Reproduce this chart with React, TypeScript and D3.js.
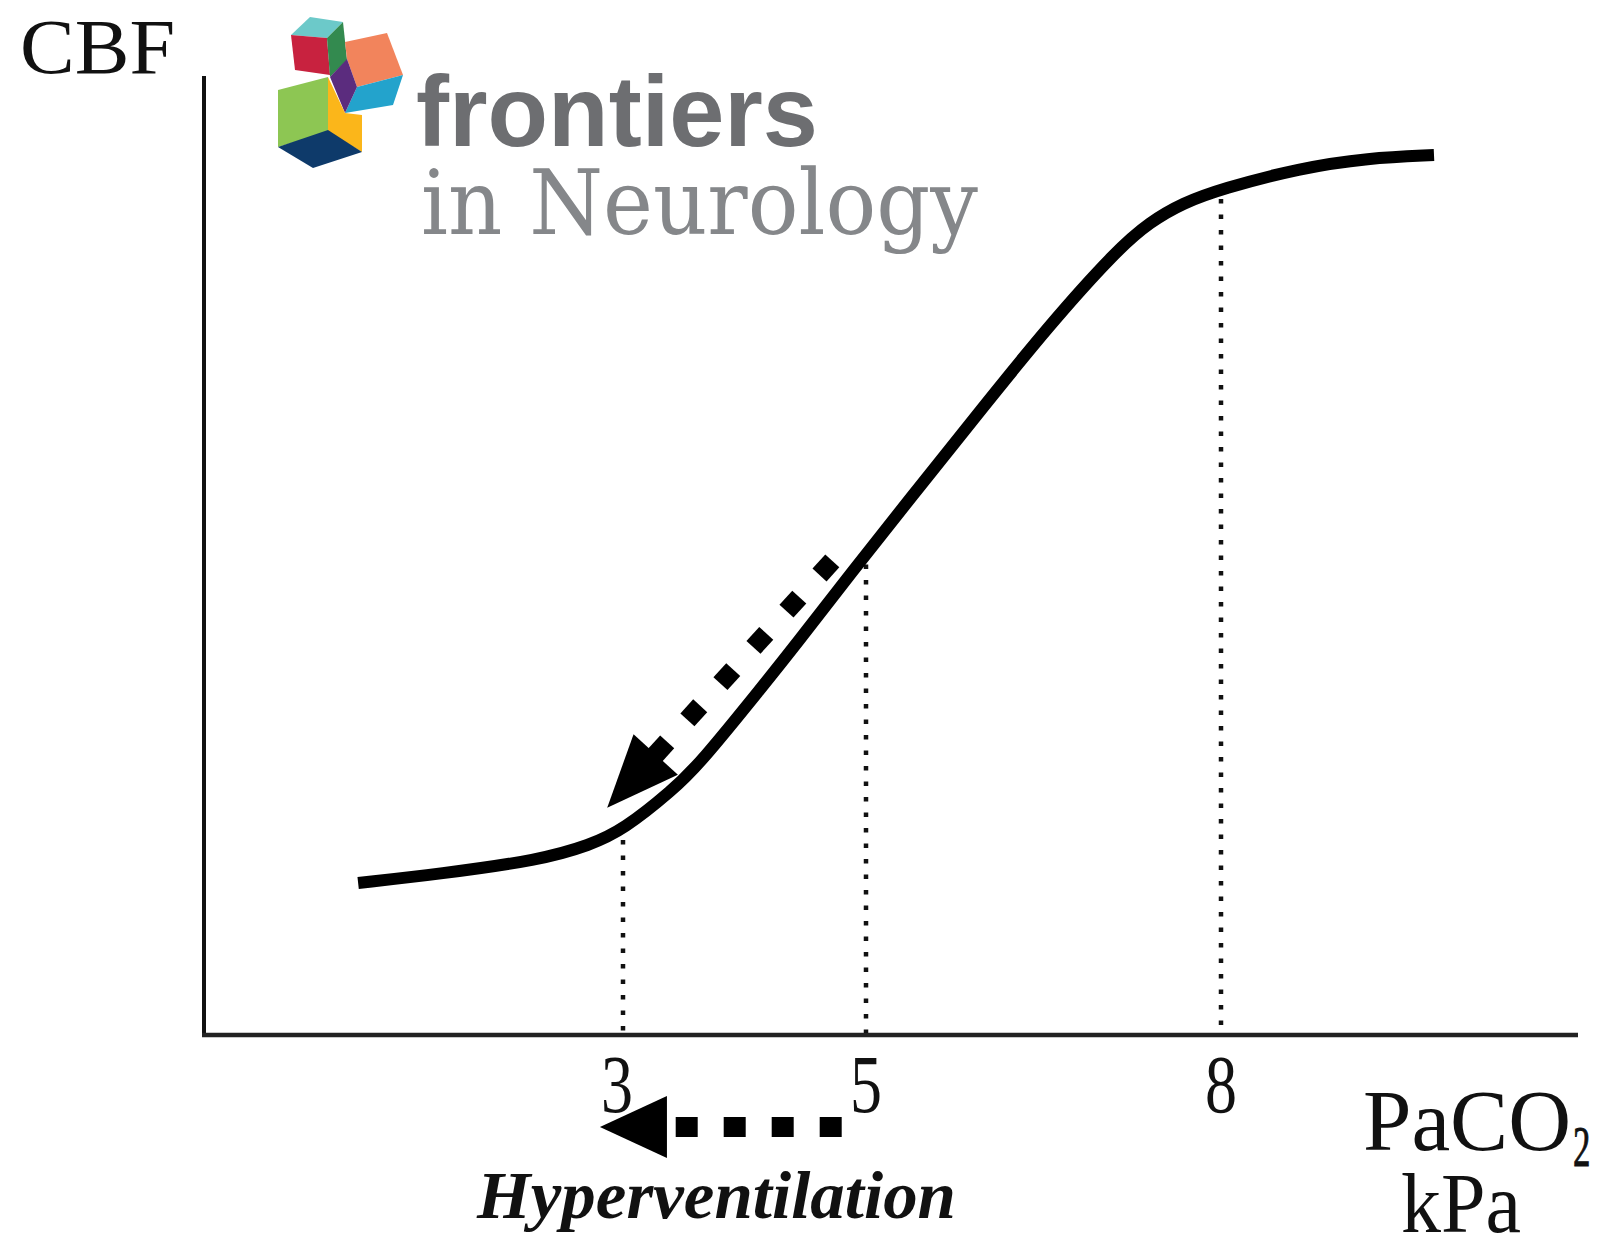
import React from "react";
import * as d3 from "d3";

// ---- data ----
const tickValues = [3, 5, 8];
const tickLabels = ["3", "5", "8"];
// PaCO2 (kPa) along the CBF curve
const curveX = [0.82, 1.49, 2.32, 2.73, 3.0, 3.41, 3.63, 4.15, 4.42, 4.87, 5.43, 5.99, 6.55, 7.12, 7.4, 7.68, 8.0, 8.67, 9.24, 9.8];
// CBF (arbitrary units, 0-100)
const curveY = [15.85, 16.79, 18.25, 19.81, 21.38, 25.55, 28.26, 36.39, 40.67, 48.07, 56.83, 65.48, 74.04, 81.86, 84.78, 86.76, 88.22, 90.41, 91.45, 91.76];
// dotted arrow drawn along the curve (x kPa, CBF)
const curveArrowFrom = [4.67, 48.7];
const curveArrowTo = [2.87, 23.7];
// hyperventilation arrow below the axis (kPa)
const hyperArrowFrom = 4.8;
const hyperArrowTo = 2.81;

const W = 1598;
const H = 1239;

export default function App() {
  const x = d3.scaleLinear().domain([3, 5, 8]).range([623, 866, 1221]);
  const y = d3.scaleLinear().domain([0, 100]).range([1035, 76]);

  const pts: [number, number][] = curveX.map((v, i) => [v, curveY[i]]);
  const line = d3
    .line<[number, number]>()
    .x((d) => x(d[0]))
    .y((d) => y(d[1]))
    .curve(d3.curveBasis);
  const curvePath = line(pts) || "";

  const interpY = d3.scaleLinear().domain(curveX).range(curveY);

  // curve arrow geometry
  const sx = x(curveArrowFrom[0]);
  const sy = y(curveArrowFrom[1]);
  const tx = x(curveArrowTo[0]);
  const ty = y(curveArrowTo[1]);
  const L = Math.hypot(tx - sx, ty - sy);
  const ux = (tx - sx) / L;
  const uy = (ty - sy) / L;
  const px = -uy;
  const py = ux;
  const headLen = 72;
  const headHalf = 30;
  const bx = tx - ux * headLen;
  const by = ty - uy * headLen;
  const angle = (Math.atan2(uy, ux) * 180) / Math.PI;
  const sqSide = 19;
  const step = 49;
  const curveSquares: number[] = [];
  for (let d = 0; d <= L - headLen + 12; d += step) curveSquares.push(d);

  // hyper arrow geometry
  const hy = 1127;
  const hTip = x(hyperArrowTo);
  const hStart = x(hyperArrowFrom);
  const hHeadLen = 67;
  const hHalf = 31;
  const hSquares: number[] = [];
  for (let c = hStart - 11; c - 11 >= hTip + hHeadLen; c -= 48) hSquares.push(c);

  const serif = "'Liberation Serif', 'Times New Roman', serif";

  return (
    <svg
      width={W}
      height={H}
      viewBox={`0 0 ${W} ${H}`}
      style={{ position: "absolute", left: 0, top: 0, background: "#fff" }}
    >
      <rect x={0} y={0} width={W} height={H} fill="#fff" />

      {/* axes */}
      <line x1={204} y1={76} x2={204} y2={1037} stroke="#111" strokeWidth={4} />
      <line x1={202} y1={1035} x2={1578} y2={1035} stroke="#222" strokeWidth={4.5} />

      {/* dotted guide lines */}
      {tickValues.map((t) => (
        <line
          key={"g" + t}
          x1={x(t)}
          x2={x(t)}
          y1={y(interpY(t)) + 10}
          y2={1033}
          stroke="#111"
          strokeWidth={4.5}
          strokeDasharray="4.5 11"
        />
      ))}

      {/* CBF curve */}
      <path d={curvePath} fill="none" stroke="#000" strokeWidth={12} strokeLinecap="butt" />

      {/* dotted arrow along curve */}
      {curveSquares.map((d, i) => (
        <rect
          key={"cs" + i}
          x={-sqSide / 2}
          y={-sqSide / 2}
          width={sqSide}
          height={sqSide}
          fill="#000"
          transform={`translate(${sx + ux * d},${sy + uy * d}) rotate(${angle})`}
        />
      ))}
      <polygon
        points={`${tx},${ty} ${bx + px * headHalf},${by + py * headHalf} ${bx - px * headHalf},${by - py * headHalf}`}
        fill="#000"
      />

      {/* tick labels */}
      {tickValues.map((t, i) => (
        <text
          key={"t" + t}
          transform={`translate(${x(t) - (i === 0 ? 6 : 0)},1112) scale(1,1.3)`}
          textAnchor="middle"
          fontFamily={serif}
          fontSize={64}
          fill="#111"
        >
          {tickLabels[i]}
        </text>
      ))}

      {/* hyperventilation arrow */}
      {hSquares.map((c, i) => (
        <rect key={"hs" + i} x={c - 11} y={hy - 10} width={22} height={20} fill="#000" />
      ))}
      <polygon
        points={`${hTip},${hy} ${hTip + hHeadLen},${hy - hHalf} ${hTip + hHeadLen},${hy + hHalf}`}
        fill="#000"
      />
      <text
        x={477}
        y={1218}
        fontFamily={serif}
        fontStyle="italic"
        fontWeight="bold"
        fontSize={67}
        textLength={479}
        lengthAdjust="spacingAndGlyphs"
        fill="#111"
      >
        Hyperventilation
      </text>

      {/* axis titles */}
      <text x={20} y={73} fontFamily={serif} fontSize={78} textLength={155} lengthAdjust="spacingAndGlyphs" fill="#111">
        CBF
      </text>
      <text x={1363} y={1150} fontFamily={serif} fontSize={86} textLength={208} lengthAdjust="spacingAndGlyphs" fill="#111">
        PaCO
      </text>
      <text transform="translate(1573,1166) scale(0.6,1)" fontFamily={serif} fontSize={58} fill="#111" stroke="#111" strokeWidth={1}>
        2
      </text>
      <text x={1401} y={1232} fontFamily={serif} fontSize={84} textLength={120} lengthAdjust="spacingAndGlyphs" fill="#111">
        kPa
      </text>

      {/* journal logo */}
      <g>
        <polygon points="291,35 310,17 343,22 327,38" fill="#6cc9c9" />
        <polygon points="291,35 327,38 330,75 295,70" fill="#c8223f" />
        <polygon points="327,38 343,22 347,60 330,77" fill="#338a4f" />
        <polygon points="345,42 387,33 403,75 357,87 347,59" fill="#f2845c" />
        <polygon points="357,87 403,75 393,105 345,113" fill="#23a3cc" />
        <polygon points="330,77 347,59 357,87 345,113" fill="#5b2c7e" />
        <polygon points="278,90 328,77 328,132 278,147" fill="#8dc653" />
        <polygon points="328,77 345,113 362,115 362,152 328,132" fill="#fbb61a" />
        <polygon points="278,147 328,130 362,152 313,168" fill="#0e3a6a" />
        <text
          x={416}
          y={146}
          fontFamily="'Liberation Sans', Arial, sans-serif"
          fontWeight="bold"
          fontSize={100}
          textLength={402}
          lengthAdjust="spacingAndGlyphs"
          fill="#6d6e71"
        >
          frontiers
        </text>
        <text
          x={421}
          y={234}
          fontFamily="'DejaVu Serif', serif"
          fontSize={90}
          textLength={557}
          lengthAdjust="spacingAndGlyphs"
          fill="#85878a"
        >
          in Neurology
        </text>
      </g>
    </svg>
  );
}
